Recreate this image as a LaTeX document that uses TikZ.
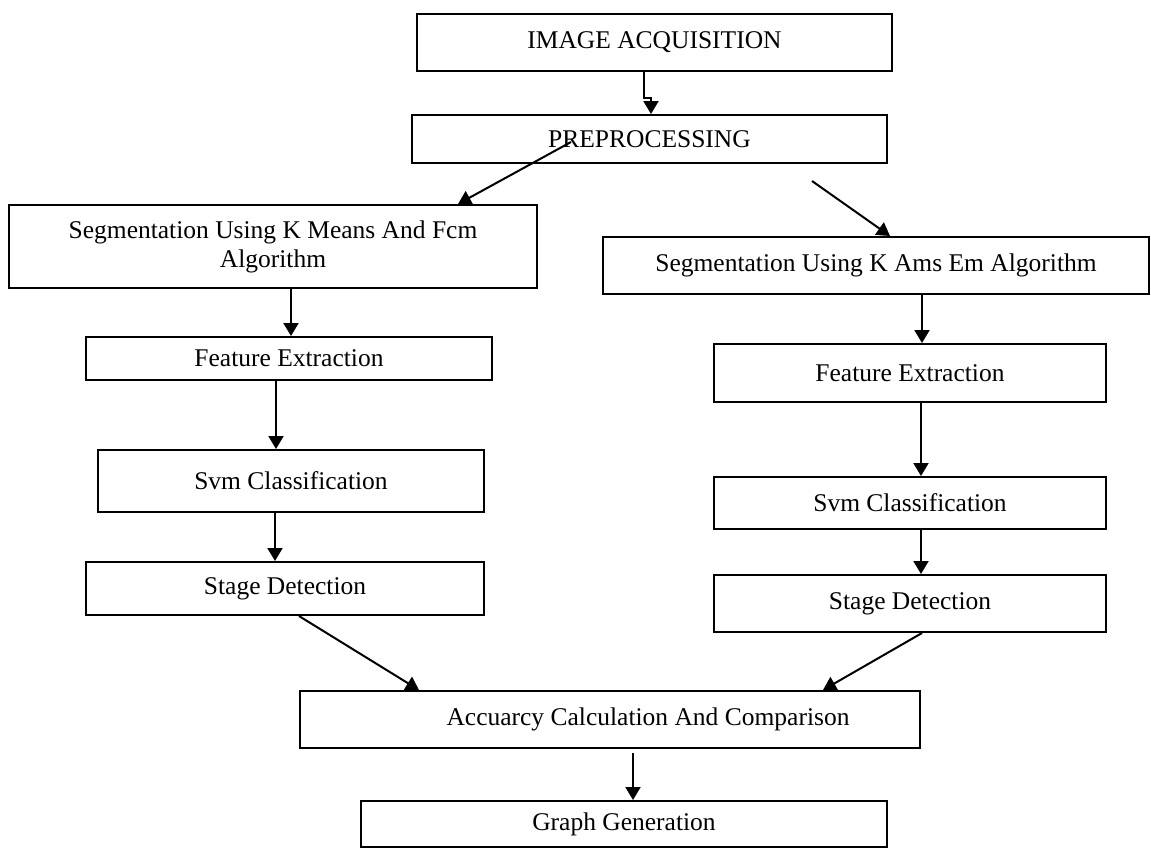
\documentclass[tikz,border=0pt]{standalone}
\usepackage{fontspec}
\setmainfont{Liberation Serif}
\usetikzlibrary{calc,arrows.meta}
\begin{document}
\begin{tikzpicture}[x=0.5pt,y=-0.5pt,
  box/.style={draw,line width=1pt,inner sep=0pt,align=center,
    font=\fontsize{12.75pt}{14.5pt}\selectfont},
  arr/.style={line width=1pt,-{Triangle[width=7.5pt,length=6.5pt]}}]
\useasboundingbox (0,0) rectangle (1151,848);
\node[box,minimum width=237.5pt,minimum height=28.5pt] (img) at (654.5,42.5) {IMAGE ACQUISITION};
\node[box,minimum width=237.5pt,minimum height=24pt] (pre) at (649.5,139) {PREPROCESSING};
\node[box,minimum width=264pt,minimum height=41.5pt] (segl) at (273,246.5) {Segmentation Using K Means And Fcm\\Algorithm};
\node[box,minimum width=273pt,minimum height=28.5pt] (segr) at (876,265.5) {Segmentation Using K Ams Em Algorithm};
\node[box,minimum width=203pt,minimum height=21.5pt] (fel) at (289,358.5) {Feature Extraction};
\node[box,minimum width=196pt,minimum height=29pt] (fer) at (910,373) {Feature Extraction};
\node[box,minimum width=193pt,minimum height=31pt] (svml) at (291,481) {Svm Classification};
\node[box,minimum width=196pt,minimum height=26pt] (svmr) at (910,503) {Svm Classification};
\node[box,minimum width=199pt,minimum height=26.5pt] (stl) at (285,588.5) {Stage Detection};
\node[box,minimum width=196pt,minimum height=28.5pt] (str) at (910,603.5) {Stage Detection};
\node[box,minimum width=310pt,minimum height=28.5pt] (acc) at (610,719.5) {\hspace*{38pt}Accuarcy Calculation And Comparison};
\node[box,minimum width=263pt,minimum height=23pt] (gra) at (624,824) {Graph Generation};
\draw[arr] ($(img.south west)+(228,0)$) -- ++(0,26) -- ++(7,0) -- ($(pre.north west)+(240,0)$);
\draw[arr] ($(pre.south west)+(160,-22)$) -- ($(segl.north west)+(450,0)$);
\draw[arr] ($(pre.south west)+(401,17)$) -- ($(segr.north west)+(288,0)$);
\draw[arr] ($(segl.south west)+(283,0)$) -- ($(fel.north west)+(206,0)$);
\draw[arr] ($(fel.south west)+(191,0)$) -- ($(svml.north west)+(179,0)$);
\draw[arr] ($(svml.south west)+(178,0)$) -- ($(stl.north west)+(190,0)$);
\draw[arr] ($(segr.south west)+(320,0)$) -- ($(fer.north west)+(209,0)$);
\draw[arr] ($(fer.south west)+(208,0)$) -- ($(svmr.north west)+(208,0)$);
\draw[arr] ($(svmr.south west)+(208,0)$) -- ($(str.north west)+(208,0)$);
\draw[arr] ($(stl.south west)+(214,0)$) -- ($(acc.north west)+(120,0)$);
\draw[arr] ($(str.south west)+(209,0)$) -- ($(acc.north west)+(524,0)$);
\draw[arr] ($(acc.south west)+(334,4)$) -- ($(gra.north west)+(273,0)$);
\end{tikzpicture}
\end{document}
